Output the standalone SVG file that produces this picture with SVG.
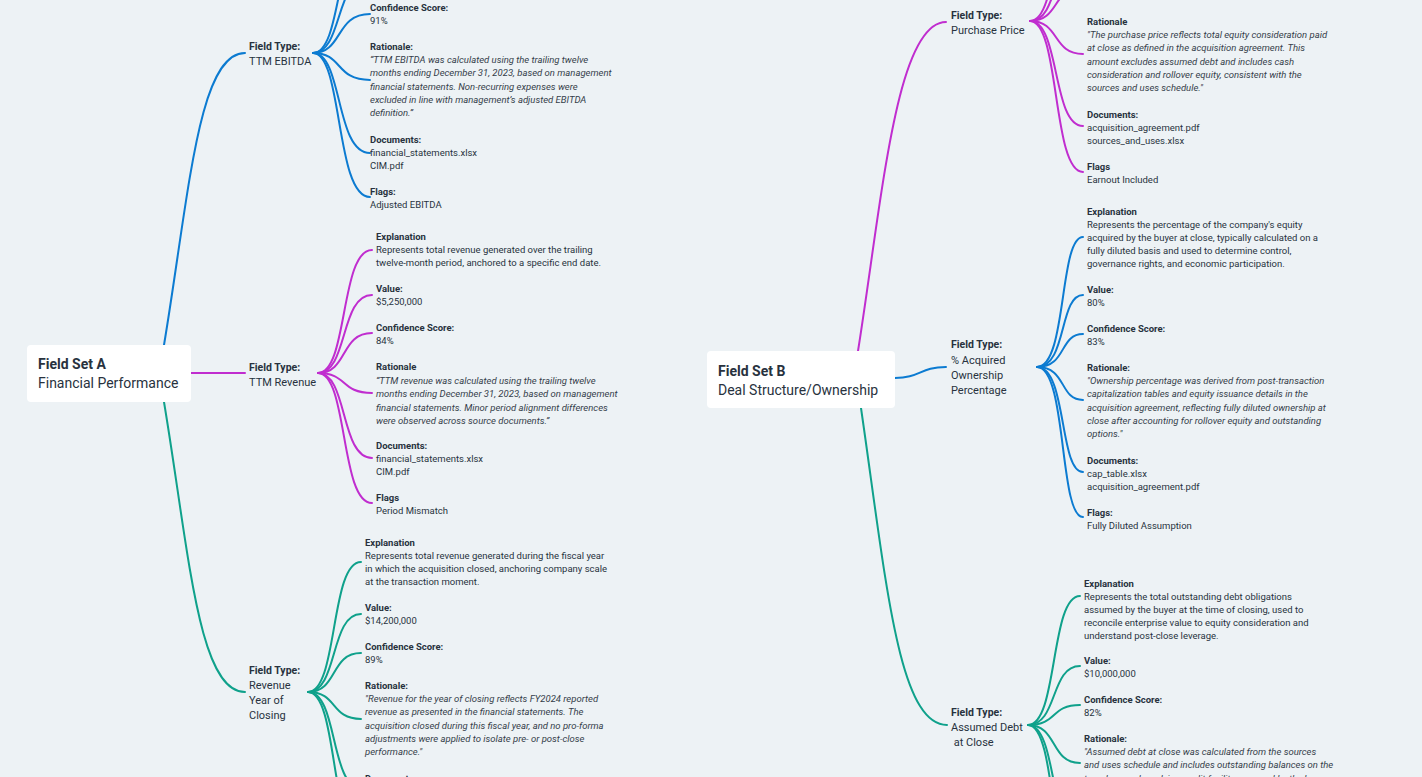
<svg xmlns="http://www.w3.org/2000/svg" width="1422" height="777" viewBox="0 0 1422 777">
<style>
text{font-family:Roboto,"Liberation Sans",sans-serif;fill:#28323e}
.h{font-size:9.5px;font-weight:700}
.v{font-size:9.5px}
.i{font-size:9.5px;font-style:italic;fill:#353e4a}
.ft{font-size:10.5px;font-weight:700}
.fv{font-size:11px}
.rt{font-size:14px;font-weight:700}
.rv{font-size:14px}
.c path{fill:none;stroke-width:2;stroke-linecap:round}
.b{stroke:#0c7bd1}
.m{stroke:#c02dcf}
.g{stroke:#0fa18b}
.node{fill:#ffffff}
</style>
<rect width="1422" height="777" fill="#edf2f5"/>
<g id="connectors" class="c">
<path class="b" d="M164,345 C189,195 198,53 245,53"/>
<path class="m" d="M191,373 L245,373"/>
<path class="g" d="M164,402 C189,552 198,692 245,692"/>
<path class="m" d="M858,351 C882,200 896,22 946,22"/>
<path class="b" d="M895,378 C920,378 920,367 946,367"/>
<path class="g" d="M861,408 C886,580 898,725 947,725"/>
<path class="b" d="M313,53 C343,53 335,-69 370,-69"/>
<path class="b" d="M313,53 C343,53 335,-24 370,-24"/>
<path class="b" d="M313,53 C343,53 335,14 370,14"/>
<path class="b" d="M313,53 C343,53 335,80 370,80"/>
<path class="b" d="M313,53 C343,53 335,153 370,153"/>
<path class="b" d="M313,53 C343,53 335,197 370,197"/>
<path class="m" d="M318,373 C348,373 340,250 372,250"/>
<path class="m" d="M318,373 C348,373 340,295 372,295"/>
<path class="m" d="M318,373 C348,373 340,333 372,333"/>
<path class="m" d="M318,373 C348,373 340,393 372,393"/>
<path class="m" d="M318,373 C348,373 340,458 372,458"/>
<path class="m" d="M318,373 C348,373 340,503 372,503"/>
<path class="g" d="M308,692 C338,692 330,562 361,562"/>
<path class="g" d="M308,692 C338,692 330,614 361,614"/>
<path class="g" d="M308,692 C338,692 330,653 361,653"/>
<path class="g" d="M308,692 C338,692 330,719 361,719"/>
<path class="g" d="M308,692 C338,692 330,788 361,788"/>
<path class="g" d="M308,692 C338,692 330,834 361,834"/>
<path class="m" d="M1030,21 C1060,21 1052,-109 1083,-109"/>
<path class="m" d="M1030,21 C1060,21 1052,-51 1083,-51"/>
<path class="m" d="M1030,21 C1060,21 1052,-13 1083,-13"/>
<path class="m" d="M1030,21 C1060,21 1052,54 1083,54"/>
<path class="m" d="M1030,21 C1060,21 1052,126 1083,126"/>
<path class="m" d="M1030,21 C1060,21 1052,172 1083,172"/>
<path class="b" d="M1037,367 C1067,367 1059,237 1083,237"/>
<path class="b" d="M1037,367 C1067,367 1059,295 1083,295"/>
<path class="b" d="M1037,367 C1067,367 1059,334 1083,334"/>
<path class="b" d="M1037,367 C1067,367 1059,400 1083,400"/>
<path class="b" d="M1037,367 C1067,367 1059,472 1083,472"/>
<path class="b" d="M1037,367 C1067,367 1059,517 1083,517"/>
<path class="g" d="M1028,725 C1058,725 1050,596 1080,596"/>
<path class="g" d="M1028,725 C1058,725 1050,666 1080,666"/>
<path class="g" d="M1028,725 C1058,725 1050,705 1080,705"/>
<path class="g" d="M1028,725 C1058,725 1050,763 1080,763"/>
<path class="g" d="M1028,725 C1058,725 1050,840 1080,840"/>
<path class="g" d="M1028,725 C1058,725 1050,890 1080,890"/>
</g>

<g id="root-a">
<rect class="node" x="27" y="345" width="164" height="57" rx="4"/>
<text class="rt" x="38" y="369">Field Set A</text>
<text class="rv" x="38" y="388">Financial Performance</text>
</g>
<g id="root-b">
<rect class="node" x="707" y="351" width="188" height="57" rx="4"/>
<text class="rt" x="718" y="376">Field Set B</text>
<text class="rv" x="718" y="395">Deal Structure/Ownership</text>
</g>

<g id="ft-ttm-ebitda">
<text class="ft" x="249" y="50">Field Type:</text>
<text class="fv" x="249" y="65">TTM EBITDA</text>
</g>
<g id="ebitda-confidence">
<text class="h" x="370" y="11">Confidence Score:</text>
<text class="v" x="370" y="24">91%</text>
</g>
<g id="ebitda-rationale">
<text class="h" x="370" y="50">Rationale:</text>
<text class="i"><tspan x="370" y="63">“TTM EBITDA was calculated using the trailing twelve</tspan><tspan x="370" y="76.3">months ending December 31, 2023, based on management</tspan><tspan x="370" y="89.6">financial statements. Non-recurring expenses were</tspan><tspan x="370" y="102.9">excluded in line with management’s adjusted EBITDA</tspan><tspan x="370" y="116.2">definition.”</tspan></text>
</g>
<g id="ebitda-documents">
<text class="h" x="370" y="143">Documents:</text>
<text class="v"><tspan x="370" y="156">financial_statements.xlsx</tspan><tspan x="370" y="169">CIM.pdf</tspan></text>
</g>
<g id="ebitda-flags">
<text class="h" x="370" y="195">Flags:</text>
<text class="v" x="370" y="208">Adjusted EBITDA</text>
</g>

<g id="ft-ttm-revenue">
<text class="ft" x="249" y="371">Field Type:</text>
<text class="fv" x="249" y="386">TTM Revenue</text>
</g>
<g id="rev-explanation">
<text class="h" x="376" y="240">Explanation</text>
<text class="v"><tspan x="376" y="253">Represents total revenue generated over the trailing</tspan><tspan x="376" y="266">twelve-month period, anchored to a specific end date.</tspan></text>
</g>
<g id="rev-value">
<text class="h" x="376" y="292">Value:</text>
<text class="v" x="376" y="305">$5,250,000</text>
</g>
<g id="rev-confidence">
<text class="h" x="376" y="331">Confidence Score:</text>
<text class="v" x="376" y="344">84%</text>
</g>
<g id="rev-rationale">
<text class="h" x="376" y="370">Rationale</text>
<text class="i"><tspan x="376" y="384">“TTM revenue was calculated using the trailing twelve</tspan><tspan x="376" y="397.3">months ending December 31, 2023, based on management</tspan><tspan x="376" y="410.6">financial statements. Minor period alignment differences</tspan><tspan x="376" y="423.9">were observed across source documents.”</tspan></text>
</g>
<g id="rev-documents">
<text class="h" x="376" y="449">Documents:</text>
<text class="v"><tspan x="376" y="462">financial_statements.xlsx</tspan><tspan x="376" y="475">CIM.pdf</tspan></text>
</g>
<g id="rev-flags">
<text class="h" x="376" y="501">Flags</text>
<text class="v" x="376" y="514">Period Mismatch</text>
</g>

<g id="ft-revenue-closing">
<text class="ft" x="249" y="674">Field Type:</text>
<text class="fv"><tspan x="249" y="689">Revenue</tspan><tspan x="249" y="704">Year of</tspan><tspan x="249" y="719">Closing</tspan></text>
</g>
<g id="ryc-explanation">
<text class="h" x="365" y="546">Explanation</text>
<text class="v"><tspan x="365" y="559">Represents total revenue generated during the fiscal year</tspan><tspan x="365" y="572">in which the acquisition closed, anchoring company scale</tspan><tspan x="365" y="585">at the transaction moment.</tspan></text>
</g>
<g id="ryc-value">
<text class="h" x="365" y="611">Value:</text>
<text class="v" x="365" y="624">$14,200,000</text>
</g>
<g id="ryc-confidence">
<text class="h" x="365" y="650">Confidence Score:</text>
<text class="v" x="365" y="663">89%</text>
</g>
<g id="ryc-rationale">
<text class="h" x="365" y="689">Rationale:</text>
<text class="i"><tspan x="365" y="702">"Revenue for the year of closing reflects FY2024 reported</tspan><tspan x="365" y="715.3">revenue as presented in the financial statements. The</tspan><tspan x="365" y="728.6">acquisition closed during this fiscal year, and no pro-forma</tspan><tspan x="365" y="741.9">adjustments were applied to isolate pre- or post-close</tspan><tspan x="365" y="755.2">performance."</tspan></text>
</g>
<g id="ryc-documents">
<text class="h" x="365" y="782">Documents:</text>
</g>

<g id="ft-purchase-price">
<text class="ft" x="951" y="19">Field Type:</text>
<text class="fv" x="951" y="34">Purchase Price</text>
</g>
<g id="pp-rationale">
<text class="h" x="1087" y="25">Rationale</text>
<text class="i"><tspan x="1087" y="38">"The purchase price reflects total equity consideration paid</tspan><tspan x="1087" y="51.3">at close as defined in the acquisition agreement. This</tspan><tspan x="1087" y="64.6">amount excludes assumed debt and includes cash</tspan><tspan x="1087" y="77.9">consideration and rollover equity, consistent with the</tspan><tspan x="1087" y="91.2">sources and uses schedule."</tspan></text>
</g>
<g id="pp-documents">
<text class="h" x="1087" y="118">Documents:</text>
<text class="v"><tspan x="1087" y="131">acquisition_agreement.pdf</tspan><tspan x="1087" y="144">sources_and_uses.xlsx</tspan></text>
</g>
<g id="pp-flags">
<text class="h" x="1087" y="170">Flags</text>
<text class="v" x="1087" y="183">Earnout Included</text>
</g>

<g id="ft-acquired-ownership">
<text class="ft" x="951" y="348">Field Type:</text>
<text class="fv"><tspan x="951" y="364">% Acquired</tspan><tspan x="951" y="379">Ownership</tspan><tspan x="951" y="394">Percentage</tspan></text>
</g>
<g id="own-explanation">
<text class="h" x="1087" y="215">Explanation</text>
<text class="v"><tspan x="1087" y="228">Represents the percentage of the company's equity</tspan><tspan x="1087" y="241">acquired by the buyer at close, typically calculated on a</tspan><tspan x="1087" y="254">fully diluted basis and used to determine control,</tspan><tspan x="1087" y="267">governance rights, and economic participation.</tspan></text>
</g>
<g id="own-value">
<text class="h" x="1087" y="293">Value:</text>
<text class="v" x="1087" y="306">80%</text>
</g>
<g id="own-confidence">
<text class="h" x="1087" y="332">Confidence Score:</text>
<text class="v" x="1087" y="345">83%</text>
</g>
<g id="own-rationale">
<text class="h" x="1087" y="371">Rationale:</text>
<text class="i"><tspan x="1087" y="384">"Ownership percentage was derived from post-transaction</tspan><tspan x="1087" y="397.3">capitalization tables and equity issuance details in the</tspan><tspan x="1087" y="410.6">acquisition agreement, reflecting fully diluted ownership at</tspan><tspan x="1087" y="423.9">close after accounting for rollover equity and outstanding</tspan><tspan x="1087" y="437.2">options."</tspan></text>
</g>
<g id="own-documents">
<text class="h" x="1087" y="464">Documents:</text>
<text class="v"><tspan x="1087" y="477">cap_table.xlsx</tspan><tspan x="1087" y="490">acquisition_agreement.pdf</tspan></text>
</g>
<g id="own-flags">
<text class="h" x="1087" y="516">Flags:</text>
<text class="v" x="1087" y="529">Fully Diluted Assumption</text>
</g>

<g id="ft-assumed-debt">
<text class="ft" x="951" y="716">Field Type:</text>
<text class="fv"><tspan x="951" y="731">Assumed Debt</tspan><tspan x="951" y="746"> at Close</tspan></text>
</g>
<g id="debt-explanation">
<text class="h" x="1084" y="587">Explanation</text>
<text class="v"><tspan x="1084" y="600">Represents the total outstanding debt obligations</tspan><tspan x="1084" y="613">assumed by the buyer at the time of closing, used to</tspan><tspan x="1084" y="626">reconcile enterprise value to equity consideration and</tspan><tspan x="1084" y="639">understand post-close leverage.</tspan></text>
</g>
<g id="debt-value">
<text class="h" x="1084" y="664">Value:</text>
<text class="v" x="1084" y="677">$10,000,000</text>
</g>
<g id="debt-confidence">
<text class="h" x="1084" y="703">Confidence Score:</text>
<text class="v" x="1084" y="716">82%</text>
</g>
<g id="debt-rationale">
<text class="h" x="1084" y="742">Rationale:</text>
<text class="i"><tspan x="1084" y="755">"Assumed debt at close was calculated from the sources</tspan><tspan x="1084" y="768.3">and uses schedule and includes outstanding balances on the</tspan><tspan x="1084" y="781.6">term loan and revolving credit facility assumed by the buyer</tspan></text>
</g>
</svg>
